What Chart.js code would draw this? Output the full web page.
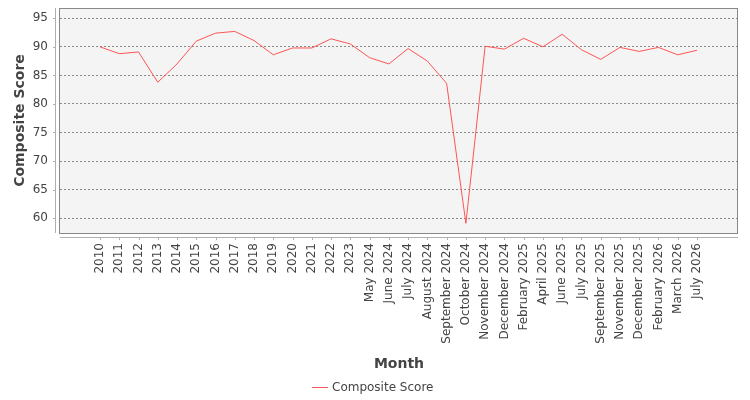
<!DOCTYPE html>
<html>
<head>
<meta charset="utf-8">
<script src="https://cdn.jsdelivr.net/npm/chart.js@4/dist/chart.umd.min.js"></script>
<style>
  html, body { margin: 0; padding: 0; background: #ffffff; }
  #wrap { width: 750px; height: 400px; }
</style>
</head>
<body>
<div id="wrap"><canvas id="c" width="750" height="400"></canvas></div>
<script>
const categories = ["2010","2011","2012","2013","2014","2015","2016","2017","2018","2019","2020","2021","2022","2023",
  "May 2024","June 2024","July 2024","August 2024","September 2024","October 2024","November 2024","December 2024",
  "February 2025","April 2025","June 2025","July 2025","September 2025","November 2025","December 2025",
  "February 2026","March 2026","July 2026"];
const compositeScore = [90.0, 88.8, 89.1, 83.8, 87.0, 91.0, 92.4, 92.7, 91.1, 88.6, 89.8, 89.8, 91.4, 90.5,
  88.1, 87.0, 89.7, 87.5, 83.6, 59.1, 90.1, 89.6,
  91.5, 90.0, 92.2, 89.5, 87.8, 89.9, 89.2,
  89.9, 88.6, 89.4];
const yTicks = [60, 65, 70, 75, 80, 85, 90, 95];
const seriesName = "Composite Score";

const FONT = "'DejaVu Sans', sans-serif";
const TEXT = "#444444";
const LINE = "#ff5555";

const decorPlugin = {
  id: 'decor',
  beforeDraw(chart) {
    const {ctx, chartArea: a} = chart;
    ctx.save();
    ctx.fillStyle = '#f4f4f4';
    ctx.fillRect(a.left, a.top, a.right - a.left, a.bottom - a.top);
    ctx.restore();
  },
  afterDraw(chart) {
    const {ctx, chartArea: a} = chart;
    const xs = chart.scales.x, ys = chart.scales.y;
    ctx.save();
    // plot border
    ctx.strokeStyle = '#888888';
    ctx.lineWidth = 1;
    ctx.strokeRect(Math.round(a.left) - 0.5, Math.round(a.top) + 0.5, Math.round(a.right - a.left), Math.round(a.bottom - a.top));
    // offset axis lines
    ctx.strokeStyle = '#b0b0b0';
    ctx.beginPath();
    ctx.moveTo(a.left - 4.5, a.top);
    ctx.lineTo(a.left - 4.5, a.bottom);
    ctx.moveTo(a.left, a.bottom + 4.5);
    ctx.lineTo(a.right, a.bottom + 4.5);
    // tick marks
    yTicks.forEach(v => {
      const y = Math.round(ys.getPixelForValue(v)) + 0.5;
      ctx.moveTo(a.left - 7, y);
      ctx.lineTo(a.left - 4.5, y);
    });
    categories.forEach((c, i) => {
      const x = Math.round(xs.getPixelForValue(i)) + 0.5;
      ctx.moveTo(x, a.bottom + 4.5);
      ctx.lineTo(x, a.bottom + 7);
    });
    ctx.stroke();
    // legend
    const ly = 387.5;
    const lx = 312;
    ctx.strokeStyle = LINE;
    ctx.beginPath();
    ctx.moveTo(lx, ly);
    ctx.lineTo(lx + 16, ly);
    ctx.stroke();
    ctx.fillStyle = TEXT;
    ctx.font = "12px " + FONT;
    ctx.textBaseline = 'middle';
    ctx.textAlign = 'left';
    ctx.fillText(chart.data.datasets[0].label, lx + 20, ly + 0.5);
    ctx.restore();
  }
};

new Chart(document.getElementById('c'), {
  type: 'line',
  data: {
    datasets: [{
      label: seriesName,
      data: compositeScore.map((v, i) => ({x: i, y: v})),
      borderColor: LINE,
      backgroundColor: LINE,
      borderWidth: 1,
      pointRadius: 0,
      tension: 0,
      fill: false
    }]
  },
  options: {
    responsive: false,
    animation: false,
    events: [],
    layout: { padding: { left: 0, right: 12, top: 8, bottom: 0 } },
    plugins: { legend: { display: false }, tooltip: { enabled: false } },
    scales: {
      x: {
        type: 'linear',
        min: -2.077,
        max: 33.13,
        afterBuildTicks(scale) { scale.ticks = categories.map((c, i) => ({value: i})); },
        afterFit(scale) { scale.height = 167; scale.paddingLeft = 0; scale.paddingRight = 0; },
        grid: { display: false, drawTicks: false },
        border: { display: false },
        ticks: {
          autoSkip: false,
          minRotation: 90,
          maxRotation: 90,
          padding: 10,
          color: TEXT,
          font: { family: FONT, size: 12 },
          callback: (v) => categories[v]
        },
        title: {
          display: true,
          text: 'Month',
          color: TEXT,
          font: { family: FONT, size: 14, weight: 'bold' },
          padding: { top: 4, bottom: 27.6 }
        }
      },
      y: {
        type: 'linear',
        min: 57.4,
        max: 96.8,
        afterBuildTicks(scale) { scale.ticks = yTicks.map(v => ({value: v})); },
        afterFit(scale) { scale.width = 60; scale.paddingTop = 0; scale.paddingBottom = 0; },
        grid: { display: true, drawTicks: false, color: '#8a8a8a', lineWidth: 1 },
        border: { display: false, dash: [2, 2] },
        ticks: {
          padding: 12,
          color: TEXT,
          font: { family: FONT, size: 12 }
        },
        title: {
          display: true,
          text: 'Composite Score',
          color: TEXT,
          font: { family: FONT, size: 14, weight: 'bold' },
          padding: { top: 12, bottom: 0 }
        }
      }
    }
  },
  plugins: [decorPlugin]
});
</script>
</body>
</html>
